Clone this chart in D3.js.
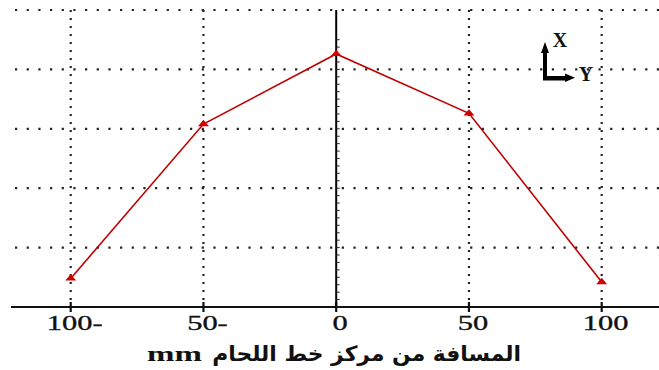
<!DOCTYPE html>
<html>
<head>
<meta charset="utf-8">
<script src="https://cdn.jsdelivr.net/npm/d3@7/dist/d3.min.js"></script>
<style>
  html, body { margin: 0; padding: 0; background: #fff; }
  svg { display: block; }
</style>
</head>
<body>
<svg id="chart" width="659" height="370"></svg>
<script>
// Distance from the weld centre line (mm) and the measured profile
const distances = [-100, -50, 0, 50, 100];
const values = [0.48, 3.08, 4.26, 3.26, 0.42];
const tickLabels = ["100-", "50-", "0", "50", "100"];
const gridLevels = [1, 2, 3, 4, 5];
const titleArabic = "المسافة من مركز خط اللحام";
const titleUnit = "mm";

const svg = d3.select("#chart");
const W = 659;

const x = d3.scaleLinear().domain([-100, 100]).range([70.7, 601.7]);
const y = d3.scaleLinear().domain([0, 5]).range([307, 10]);

// horizontal dotted grid
svg.append("g").selectAll("line").data(gridLevels).join("line")
  .attr("x1", 15).attr("x2", W)
  .attr("y1", d => y(d)).attr("y2", d => y(d))
  .attr("stroke", "#222").attr("stroke-width", 2.2)
  .attr("stroke-dasharray", "2.2 9.47");

// vertical dotted grid (centre one is drawn solid below)
svg.append("g").selectAll("line").data(distances.filter(d => d !== 0)).join("line")
  .attr("x1", d => x(d)).attr("x2", d => x(d))
  .attr("y1", y(5)).attr("y2", y(0))
  .attr("stroke", "#222").attr("stroke-width", 2.2)
  .attr("stroke-dasharray", "2 6");

// x axis line
svg.append("line")
  .attr("x1", 11).attr("x2", W)
  .attr("y1", y(0)).attr("y2", y(0))
  .attr("stroke", "#111").attr("stroke-width", 1.8);

// x axis ticks
svg.append("g").selectAll("line").data(distances).join("line")
  .attr("x1", d => x(d)).attr("x2", d => x(d))
  .attr("y1", y(0) - 5).attr("y2", y(0) + 5)
  .attr("stroke", "#111").attr("stroke-width", 2.2);

// centre (zero) axis with minor ticks
svg.append("line")
  .attr("x1", x(0)).attr("x2", x(0))
  .attr("y1", y(5)).attr("y2", y(0))
  .attr("stroke", "#000").attr("stroke-width", 2);

const minor = d3.range(0, 4.5 + 1e-9, 0.125);
svg.append("g").selectAll("line").data(minor).join("line")
  .attr("x1", x(0)).attr("x2", x(0) + 3.5)
  .attr("y1", d => y(d)).attr("y2", d => y(d))
  .attr("stroke", "#222").attr("stroke-width", 1);

// profile line
const pts = distances.map((d, i) => [d, values[i]]);
svg.append("path")
  .datum(pts)
  .attr("fill", "none")
  .attr("stroke", "#c00000")
  .attr("stroke-width", 1.6)
  .attr("d", d3.line().x(d => x(d[0])).y(d => y(d[1])));

// triangle markers
const tri = d3.symbol().type(d3.symbolTriangle).size(36);
svg.append("g").selectAll("path").data(pts).join("path")
  .attr("d", tri)
  .attr("transform", d => `translate(${x(d[0])},${y(d[1])}) scale(1.2,0.8)`)
  .attr("fill", "#d00000");

// tick labels
svg.append("g").selectAll("text").data(distances).join("text")
  .attr("transform", d => `translate(${x(d) + 4},330) scale(1.45,1)`)
  .attr("text-anchor", "middle")
  .attr("font-family", "Liberation Serif, serif")
  .attr("font-size", 21)
  .attr("fill", "#111")
  .attr("stroke", "#111")
  .attr("stroke-width", 0.35)
  .text((d, i) => tickLabels[i]);

// axis title: Arabic words on the right, unit on the left
svg.append("text")
  .attr("transform", "translate(521,361) scale(1.04,1)")
  .attr("text-anchor", "end")
  .attr("direction", "ltr")
  .attr("font-family", "DejaVu Sans, sans-serif")
  .attr("font-weight", "bold")
  .attr("font-size", 21)
  .attr("fill", "#111")
  .text(titleArabic);
svg.append("text")
  .attr("transform", "translate(147,361) scale(1.5,1)")
  .attr("font-family", "Liberation Serif, serif")
  .attr("font-weight", "bold")
  .attr("font-size", 22)
  .attr("fill", "#111")
  .text(titleUnit);

// orientation glyph (X up, Y right)
const g = svg.append("g");
g.append("path")
  .attr("d", "M543,80.5 L543,53 L541,53 L545,42 L549,53 L547,53 L547,76 L565,76 L565,73.5 L575,77.8 L565,82 L565,80.5 Z")
  .attr("fill", "#000");
g.append("text")
  .attr("x", 560).attr("y", 47)
  .attr("text-anchor", "middle")
  .attr("font-family", "Liberation Serif, serif")
  .attr("font-weight", "bold")
  .attr("font-size", 20)
  .attr("fill", "#111")
  .text("X");
g.append("text")
  .attr("x", 586).attr("y", 81)
  .attr("text-anchor", "middle")
  .attr("font-family", "Liberation Serif, serif")
  .attr("font-weight", "bold")
  .attr("font-size", 20)
  .attr("fill", "#111")
  .text("Y");
</script>
</body>
</html>
